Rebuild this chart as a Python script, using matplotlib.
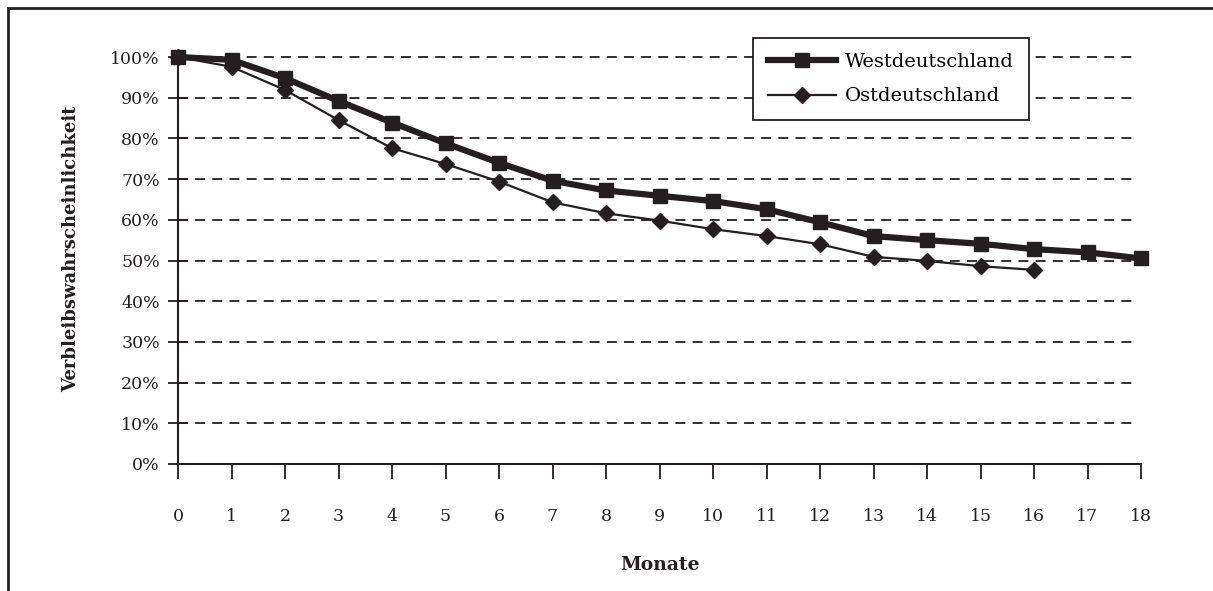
import matplotlib
matplotlib.use('Agg')
from matplotlib import pyplot as plt
from matplotlib.ticker import FuncFormatter
from matplotlib.patches import Rectangle

plt.rcParams['font.family'] = ['DejaVu Serif']

monate = list(range(19))
west = [100, 99.3, 94.8, 89.2, 83.9, 78.8, 74.0, 69.6, 67.2, 65.9, 64.6,
        62.6, 59.4, 56.0, 55.0, 54.1, 52.8, 52.0, 50.5]
ost = [100, 97.6, 91.9, 84.5, 77.6, 73.7, 69.4, 64.3, 61.6, 59.8, 57.7,
       56.0, 54.0, 50.9, 49.9, 48.6, 47.7]
yticks = [0, 10, 20, 30, 40, 50, 60, 70, 80, 90, 100]

fig = plt.figure(figsize=(12.13, 5.91), dpi=100)
ax = fig.add_axes([178/1213, 1-464/591, (1141-178)/1213, (464-57)/591])

# rahmen (oben und links sichtbar)
fig.patches.append(Rectangle((8/1213, -0.1), 1.2, 1.1-8/591, transform=fig.transFigure,
                             fill=False, edgecolor='#231f20', linewidth=2, zorder=0))

for y in yticks[1:]:
    ax.plot([0, 17.9], [y, y], color='#231f20', linestyle=(0, (5.5, 4.0)), linewidth=1.3, zorder=1)

ax.plot(monate, west, color='#231f20', linewidth=4.5, marker='s', markersize=10,
        label='Westdeutschland', zorder=3)
ax.plot(monate[:len(ost)], ost, color='#231f20', linewidth=1.6, marker='D', markersize=8.3,
        label='Ostdeutschland', zorder=3)

ax.set_xlim(0, 18)
ax.set_ylim(0, 100)
ax.set_xticks(monate)
ax.set_yticks(yticks)
ax.yaxis.set_major_formatter(FuncFormatter(lambda v, p: '%d%%' % v))
ax.tick_params(axis='y', direction='inout', length=14, width=1.3, color='#231f20',
               labelsize=12.5, pad=6, labelcolor='#231f20')
ax.tick_params(axis='x', direction='out', length=11, width=1.3, color='#231f20',
               labelsize=12.5, pad=21, labelcolor='#231f20')
for s in ['top', 'right']:
    ax.spines[s].set_visible(False)
for s in ['left', 'bottom']:
    ax.spines[s].set_linewidth(1.5)
    ax.spines[s].set_color('#231f20')
    ax.spines[s].set_clip_on(False)

ax.set_xlabel('Monate', fontsize=13.5, fontweight='bold', labelpad=22, color='#231f20')
ax.set_ylabel('Verbleibswahrscheinlichkeit', fontsize=13, fontweight='bold', color='#231f20')
ax.yaxis.set_label_coords(-0.102, 0.528)

for ln in ax.get_lines():
    ln.set_clip_on(False)

leg = ax.legend(loc='upper left', bbox_to_anchor=((753-178)/963, (464-38)/407), fontsize=14,
                frameon=True, fancybox=False, edgecolor='#231f20', borderpad=0.75,
                handlelength=3.5, handletextpad=0.5, labelspacing=0.87, borderaxespad=0,
                framealpha=1)
leg.get_frame().set_linewidth(1.3)

plt.savefig('out.png', dpi=100)
